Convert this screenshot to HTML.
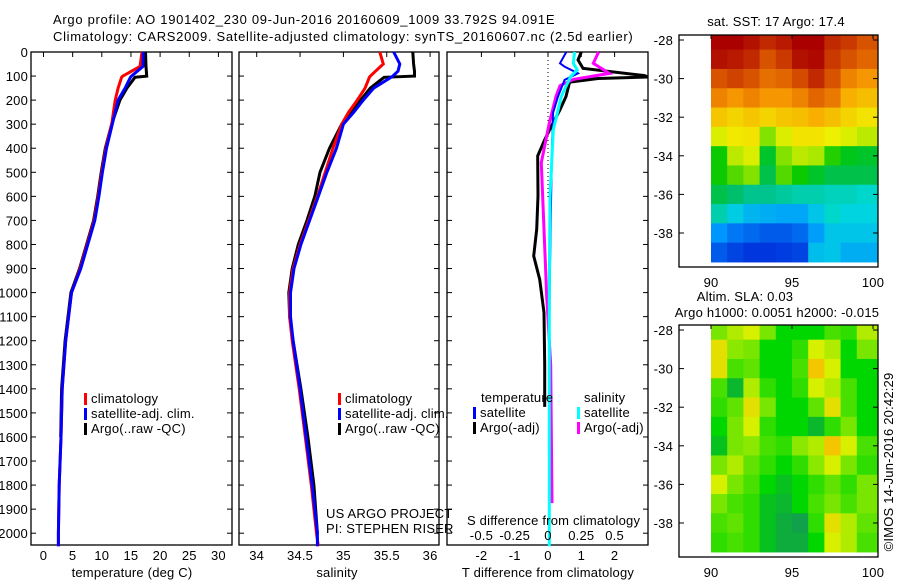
<!DOCTYPE html>
<html><head><meta charset="utf-8"><style>
html,body{margin:0;padding:0;background:#fff;}
svg{display:block;font-family:"Liberation Sans",sans-serif;}
text{font-size:13px;fill:#000;letter-spacing:0.2px;}
text.ttl{letter-spacing:0.7px;}
</style></head><body>
<svg id="c" width="900" height="580" viewBox="0 0 900 580" xmlns="http://www.w3.org/2000/svg">
<text class="ttl" x="53" y="24">Argo profile: AO 1901402_230 09-Jun-2016 20160609_1009 33.792S 94.091E</text>
<text class="ttl" x="53" y="41">Climatology: CARS2009. Satellite-adjusted climatology: synTS_20160607.nc (2.5d earlier)</text>
</svg>
<script>
// ---- data ----
const tDepth   = [0,60,100,105,150,200,300,400,500,600,700,800,900,1000,1100,1200,1400,1600,1800,2000,2054];
const tClim    = [16.9,16.55,13.6,13.4,12.8,12.3,11.7,10.7,10.0,9.4,8.7,7.5,6.3,4.8,4.3,3.8,3.2,3.0,2.7,2.55,2.55];
const tSat     = [17.1,17.07,15.1,14.9,14.0,12.8,11.8,10.8,10.1,9.5,8.8,7.6,6.4,4.8,4.3,3.8,3.2,3.0,2.7,2.55,2.55];
const tArgo    = [17.5,17.58,17.7,15.7,14.3,13.1,11.7,10.6,9.9,9.3,8.6,7.4,6.2,4.7,4.2,3.7,3.1,2.95];
const sDepth   = [0,50,80,100,105,150,200,250,300,400,500,600,700,800,900,1000,1100,1200,1400,1600,1800,2000,2054];
const sClim    = [35.42,35.46,35.37,35.31,35.30,35.25,35.16,35.06,34.98,34.88,34.79,34.70,34.60,34.50,34.42,34.38,34.38,34.41,34.49,34.56,34.63,34.69,34.71];
const sSat     = [35.58,35.65,35.63,35.57,35.55,35.35,35.23,35.12,35.0,34.92,34.81,34.71,34.61,34.51,34.43,34.39,34.39,34.42,34.50,34.57,34.64,34.70,34.70];
const sArgo    = [35.80,35.81,35.82,35.82,35.47,35.31,35.20,35.09,34.98,34.84,34.73,34.67,34.58,34.48,34.41,34.37,34.38,34.42,34.51,34.59,34.66,34.70];
const dTsatDepth = [0,47,61,89,116,185,254,400,700,1000,1300,1710];
const dTsat      = [0.55,0.36,0.5,0.9,0.5,0.3,0.15,0.12,0.08,0.05,0.03,0.03];
const dTargoDepth= [0,33,68,98,104,110,125,185,240,295,365,432,598,737,848,945,1083,1300,1475];
const dTargo     = [1.0,0.9,1.05,2.9,3.0,1.5,0.65,0.54,0.36,0.15,-0.1,-0.31,-0.3,-0.34,-0.43,-0.25,-0.12,-0.1,-0.1];
const dSsatDepth = [0,47,75,102,185,323,600,1000,1500,2054];
const dSsat      = [0.2,0.19,0.22,0.17,0.10,0.04,0.015,0.01,0.01,0.01];
const dSargoDepth= [0,47,89,114,140,185,295,378,460,737,1015,1300,1875];
const dSargo     = [0.38,0.34,0.46,0.19,0.09,0.06,0.01,-0.02,-0.05,-0.03,-0.01,0.02,0.03];
const depthTicks = [0,100,200,300,400,500,600,700,800,900,1000,1100,1200,1300,1400,1500,1600,1700,1800,1900,2000];
const tempTicks  = [0,5,10,15,20,25,30];
const salTicks   = [34,34.5,35,35.5,36];
const dTTicks    = [-2,-1,0,1,2];
const dSTicks    = [-0.5,-0.25,0,0.25,0.5];
// SST grid rows lat -28..-39, cols lon 90..99
const sstLats = [-28,-29,-30,-31,-32,-33,-34,-35,-36,-37,-38,-39];
const sstLons = [90,91,92,93,94,95,96,97,98,99];
const sst = [
[21.5,21.5,21.3,21,21.2,21.5,21.5,21,20.8,20.5],
[21.3,21.2,21,20.5,20.8,21.3,21.4,20.8,20.5,20.3],
[20.5,20.7,20.5,20.2,20.3,20.6,21,20.5,20,19.8],
[20,19.8,20,19.8,19.8,20,20.3,20.1,19.5,19.3],
[19.2,19,19.2,19,19.2,19.3,19.5,19.3,19,18.8],
[18.5,18.7,18.8,18,18.5,18.8,18.8,18.6,18.5,18.3],
[17.5,18.3,18.5,17.2,18,18.3,18.2,17.6,17.3,17.2],
[17.5,17.8,18,17,17.8,17.5,17.2,17,17,17],
[17,16.8,16.6,16.6,16.5,16.4,16.4,16.3,16.3,16.2],
[16.4,15.9,15.6,15.5,15.4,15.4,15.8,16.2,16,16],
[15.2,14.8,14.6,14.4,14.4,14.6,15.3,15.8,15.8,15.8],
[14.4,14.1,13.9,13.9,14,14.1,15.7,15.8,15.5,15.5]];
const sla = [
[0.05,0.08,0.1,0.05,0,0,0,0.03,0.02,0.08],
[0.12,0.06,0.05,0,0,0.02,0.1,0.08,0,0.05],
[0.12,0.03,0.04,0,0,0.03,0.15,0.1,0,0],
[0.03,-0.03,0.08,0.02,0,0.02,0.1,0.08,0.03,0],
[0.02,0.04,0.12,0.05,0,0,0.04,0.12,0.03,0],
[0,0.05,0.1,0.02,0,0,-0.03,0.02,0.05,0],
[-0.02,0.05,0.06,0.03,0.02,0.06,0.08,0.15,0.1,0.03],
[0.05,0.08,0.04,0.02,0,0.02,0.06,0.1,0.05,0.02],
[0.1,0.05,0.03,0,-0.02,0,0.02,0.04,0.02,0.05],
[0.05,0.03,0.02,-0.02,-0.03,0,0.03,0.05,0.03,0.05],
[0.03,0.04,0.02,-0.02,-0.04,-0.05,0.02,0.12,0.08,0.04],
[0.02,0.03,0.02,-0.02,-0.04,-0.04,0,0.1,0.08,0.03]];
const mapLatTicks = [-28,-30,-32,-34,-36,-38];
const mapLonTicks = [90,95,100];

// ---- helpers ----
const svg = document.getElementById('c');
const NS = 'http://www.w3.org/2000/svg';
function mk(tag, attrs, parent){const e=document.createElementNS(NS,tag);for(const k in attrs)e.setAttribute(k,attrs[k]);(parent||svg).appendChild(e);return e;}
function txt(x,y,s,anchor,parent){const t=mk('text',{x:x,y:y,'text-anchor':anchor||'start'},parent);t.textContent=s;return t;}
const yD = d => 52 + d*0.2406;

function panel(name,x0,x1,xf,ticks,tickFmt,labY){
  const g=mk('g',{});
  
  
  const r=mk('rect',{x:x0,y:52,width:x1-x0,height:493,fill:'none',stroke:'#000','stroke-width':1.3},g);
  
  
  depthTicks.forEach(d=>{mk('line',{x1:x0,x2:x0+5,y1:yD(d),y2:yD(d),stroke:'#000'},g);mk('line',{x1:x1-5,x2:x1,y1:yD(d),y2:yD(d),stroke:'#000'},g);});
  ticks.forEach(v=>{const x=xf(v);mk('line',{x1:x,x2:x,y1:52,y2:57,stroke:'#000'},g);
    if(labY){const t=txt(x,labY,tickFmt(v),'middle',g);}});
  return g;
}
function line(g,depths,vals,xf,color,name,w){
  const pts=vals.map((v,i)=>xf(v).toFixed(1)+','+yD(depths[i]).toFixed(1)).join(' ');
  const p=mk('polyline',{points:pts,fill:'none',stroke:color,'stroke-width':w||3,'stroke-linejoin':'miter'},g);
  
  
}
function legendRow(g,x,y,color,label){
  mk('rect',{x:x,y:y-10,width:3,height:12,fill:color},g);
  const t=txt(x+7,y,label,'start',g);
  
  
}

// depth axis labels
depthTicks.forEach(d=>{const t=txt(28,yD(d)+5,String(d),'end');});

// panel 1 temperature
const xT = v => 43.5 + v*5.83;
const p1=panel('temperature-panel',31,232,xT,tempTicks,String,560);
line(p1,tDepth.slice(0,tArgo.length),tArgo,xT,'#000','argo-temperature-line');
line(p1,tDepth,tClim,xT,'#f00','climatology-temperature-line');
line(p1,tDepth,tSat,xT,'#00f','satellite-temperature-line');
legendRow(p1,84,403,'#f00','climatology');legendRow(p1,84,418,'#00f','satellite-adj. clim.');legendRow(p1,84,433,'#000','Argo(..raw -QC)');
let at=txt(132,577,'temperature (deg C)','middle');

// panel 2 salinity
const xS = v => 256.7 + (v-34)*86.7;
const p2=panel('salinity-panel',239,439,xS,salTicks,String,560);
line(p2,sDepth.slice(0,sArgo.length),sArgo,xS,'#000','argo-salinity-line');
line(p2,sDepth,sClim,xS,'#f00','climatology-salinity-line');
line(p2,sDepth,sSat,xS,'#00f','satellite-salinity-line');
legendRow(p2,338,403,'#f00','climatology');legendRow(p2,338,418,'#00f','satellite-adj. clim.');legendRow(p2,338,433,'#000','Argo(..raw -QC)');
at=txt(337,577,'salinity','middle');
let n1=txt(326,518,'US ARGO PROJECT');
let n2=txt(326,533,'PI: STEPHEN RISER');

// panel 3 differences
const xDT = v => 548 + v*33.3;
const xDS = v => 548 + v*133.2;
const p3=panel('difference-panel',447,648,xDT,dTTicks,String,560);
mk('line',{x1:548,x2:548,y1:52,y2:200,stroke:'#000','stroke-dasharray':'1,3'},p3);
line(p3,dTargoDepth,dTargo,xDT,'#000','argo-t-difference-line');
line(p3,dSargoDepth,dSargo,xDS,'#f0f','argo-s-difference-line');
line(p3,dTsatDepth,dTsat,xDT,'#00f','satellite-t-difference-line',2);
line(p3,dSsatDepth,dSsat,xDS,'#0ff','satellite-s-difference-line');
let lt=txt(481,402,'temperature');
let ls=txt(584,402,'salinity');
legendRow(p3,473,417,'#00f','satellite');legendRow(p3,473,432,'#000','Argo(-adj)');
legendRow(p3,577,417,'#0ff','satellite');legendRow(p3,577,432,'#f0f','Argo(-adj)');
let st=txt(467,525,'S difference from climatology');
dSTicks.forEach(v=>{const t=txt(xDS(v),540,String(v),'middle');});
at=txt(548,577,'T difference from climatology','middle');

// maps
const rainbowStops=[[0,[0,0,140]],[0.15,[0,50,220]],[0.3,[0,150,255]],[0.4,[0,220,220]],[0.47,[0,190,120]],[0.55,[0,200,0]],[0.62,[150,230,0]],[0.68,[240,240,0]],[0.8,[250,160,0]],[0.88,[220,90,0]],[1,[170,0,0]]];
function interp(stops,v){
  if(v<=stops[0][0])return 'rgb('+stops[0][1]+')';
  for(let i=1;i<stops.length;i++){if(v<=stops[i][0]){const a=stops[i-1],b=stops[i],f=(v-a[0])/(b[0]-a[0]);return 'rgb('+a[1].map((c,k)=>Math.round(c+(b[1][k]-c)*f)).join(',')+')';}}
  return 'rgb('+stops[stops.length-1][1]+')';}
const slaStops=[[-0.06,[20,150,90]],[0,[0,215,0]],[0.05,[120,230,0]],[0.1,[215,240,0]],[0.16,[250,190,0]]];
function map(name,top,grid,colf,title1,title2){
  const g=mk('g',{});
  
  
  const latY = la => top+5 + (-28-la)*19.3;
  const lonX = lo => 711 + (lo-90)*16.2;
  const bottom=top+232;
  grid.forEach((row,i)=>row.forEach((v,j)=>{
    const y0=Math.max(top,latY(sstLats[i]+0.5)), y1=Math.min(bottom-2,latY(sstLats[i]-0.5));
    const x0=lonX(sstLons[j]), x1=Math.min(877,lonX(sstLons[j]+1)+ (j==row.length-1?5:0));
    const c=mk('rect',{x:x0,y:y0,width:x1-x0+0.5,height:y1-y0+0.5,fill:colf(v)},g);
    
    
  }));
  mk('rect',{x:679,y:top,width:199,height:232,fill:'none',stroke:'#000','stroke-width':1.3},g);
  mapLatTicks.forEach(la=>{const y=latY(la);mk('line',{x1:679,x2:684,y1:y,y2:y,stroke:'#000'},g);mk('line',{x1:873,x2:878,y1:y,y2:y,stroke:'#000'},g);
    const t=txt(673,y+5,String(la),'end',g);});
  mapLonTicks.forEach(lo=>{const x=lonX(lo);mk('line',{x1:x,x2:x,y1:top,y2:top+4,stroke:'#000'},g);
    const t=txt(x,bottom+20,String(lo),'middle',g);});
  if(title1){const t=txt(title1[1],title1[2],title1[0],'middle',g);}
  if(title2){const t=txt(title2[1],title2[2],title2[0],'middle',g);}
}
map('sst-map',35,sst,v=>interp(rainbowStops,(v-12.5)/9),['sat. SST: 17 Argo: 17.4',776,26],null);
map('sla-map',325,sla,v=>interp(slaStops,v),['Altim. SLA: 0.03',745,301],['Argo h1000: 0.0051 h2000: -0.015',777,317]);
const cr=txt(0,0,'\u00a9IMOS 14-Jun-2016 20:42:29','middle');
cr.setAttribute('transform','translate(893,462) rotate(-90)');


</script>
</body></html>
